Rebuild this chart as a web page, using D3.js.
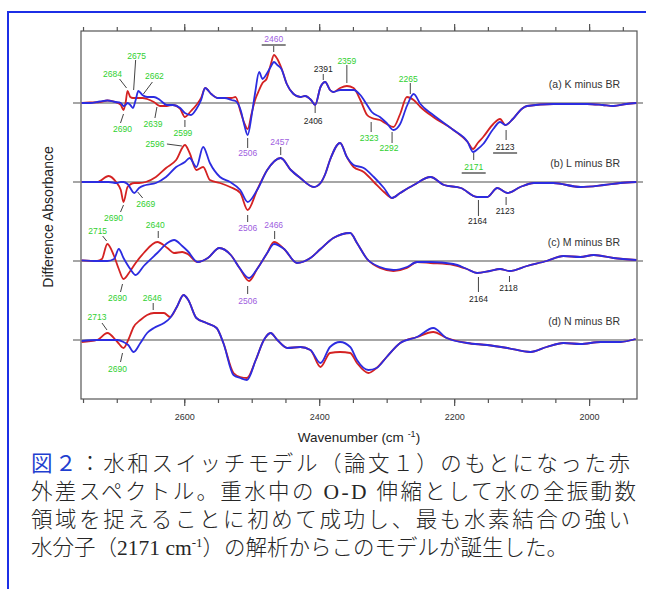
<!DOCTYPE html>
<html>
<head>
<meta charset="utf-8">
<script src="https://cdn.jsdelivr.net/npm/d3@7"></script>
<style>
  body { margin: 0; background: #fff; }
  svg { display: block; }
  .latin { font-family: "Times New Roman", "Liberation Serif", Times, serif; font-weight: 400; }
</style>
</head>
<body>
<div id="chart"></div>
<script>
// panels (top to bottom)
const panelNames = ["(a) K minus BR", "(b) L minus BR", "(c) M minus BR", "(d) N minus BR"];
const majorTicks = [2600, 2400, 2200, 2000];

// (a) K minus BR, wavenumber grid + red / blue difference spectra (arb. units)
const wnA = [2752, 2740, 2725, 2714, 2702, 2694, 2690, 2687, 2684, 2680, 2676, 2672, 2668, 2662, 2655, 2645, 2636, 2626, 2617, 2606, 2599, 2590, 2582, 2575, 2569, 2560, 2550, 2540, 2530, 2524, 2516, 2511, 2506, 2500, 2495, 2489, 2484, 2478, 2472, 2467, 2462, 2456, 2448, 2438, 2428, 2421, 2412, 2406, 2398, 2391, 2384, 2379, 2369, 2359, 2349, 2339, 2329, 2322, 2310, 2300, 2290, 2280, 2270, 2260, 2250, 2231, 2201, 2180, 2172, 2165, 2157, 2142, 2132, 2124, 2113, 2100, 2092, 2053, 2003, 1980, 1964, 1945, 1930];
const redA = [0, 0.5, 1, 2.5, 1, -2, -7, 0, 12, 6, 5, 5, 5, 5, 4, 1, -3, -3, -2, -6, -14, -8, -2, 5, 15, 9, 5, 5, 5, 6, -10, -20, -26, -10, 3, 13, 20, 24, 38, 48, 44, 35, 19, 9, 6, 7, 3, -2, 16, 21, 13, 11, 15, 17, 15, 3, -12, -15, -17, -21, -24, -11, 6, 3, -4, -14, -27, -39, -46, -40, -34, -21, -16, -22, -16, -6, -3, -1, -1, -2, -3, -1, 0];
const blueA = [0, 0, 1.5, 2.5, 1, 0, -3, -2, 0, -2, -5, 3, 12, 8, 6, 6, 3, -2, -2, -5, -10, -12, -6, 3, 15, 9, 5, 5, 3, 2, -8, -22, -32, -12, 10, 31, 24, 29, 36, 41, 38, 34, 19, 9, 6, 7, 3, -2, 16, 21, 13, 11, 13, 13, 13, 8, -2, -9, -14, -20, -27, -21, -3, 9, -1, -12, -27, -39, -49, -46, -41, -26, -19, -22, -16, -6, -3, -1, -1, -2, -3, -1, 0];

// (b) L minus BR
const wnB = [2752, 2729, 2712, 2700, 2694, 2690, 2684, 2674, 2667, 2657, 2642, 2627, 2612, 2599, 2592, 2582, 2572, 2562, 2547, 2532, 2517, 2506, 2492, 2477, 2457, 2442, 2428, 2408, 2398, 2391, 2384, 2369, 2359, 2349, 2334, 2319, 2304, 2292, 2280, 2260, 2235, 2215, 2190, 2166, 2151, 2136, 2121, 2102, 2082, 2053, 2013, 1978, 1954, 1930];
const redB = [0, 0, 6, -1, -8, -20, -5, -1, -1, 0, 5, 14, 22, 37, 29, 12, 15, 2, -1, -5, -11, -28, -8, 12, 24, 12, 4, -5, -1, 8, 22, 39, 25, 15, 10, 0, -10, -16, -11, -3, 5, -3, -6, -15, -15, -6, -11, -5, -1, -1, -5, -3, -1, 0];
const blueB = [0, 0, 0, -1, 0, 0, -2, -11, -6, -3, -1, 5, 15, 20, 24, 15, 35, 19, 5, 0, -8, -20, -8, 12, 24, 12, 4, -5, -1, 8, 22, 39, 25, 17, 14, 5, -6, -16, -11, -3, 5, -3, -6, -15, -15, -6, -11, -5, -1, -1, -5, -3, -1, 0];

// (c) M minus BR
const wnC = [2752, 2729, 2722, 2714, 2704, 2697, 2690, 2680, 2672, 2660, 2640, 2625, 2615, 2603, 2595, 2580, 2565, 2548, 2531, 2518, 2504, 2492, 2477, 2467, 2452, 2433, 2413, 2398, 2379, 2354, 2344, 2329, 2310, 2290, 2270, 2255, 2235, 2201, 2181, 2166, 2147, 2132, 2118, 2092, 2063, 2038, 2013, 1993, 1964, 1930];
const redC = [0.7, 0, 2, 17, 5, -8, -18, -10, -2, 8, 19, 13, 8, 9, 7, -1, 3, 13, 6, -7, -20, -8, 8, 19, 12, -2, 3, 12, 23, 28, 18, 2, -7, -10, -7, -1, -2, -4, -8, -12, -10, -8, -10, -5, 0, 5, 4, 6, 3, 1];
const blueC = [0.7, 0, 0, 0, 2, 12, 3, -8, -14, -5, 8, 18, 21, 15, 10, -1, 3, 13, 6, -7, -17, -8, 8, 17, 12, -2, 3, 12, 23, 28, 18, 2, -6, -9, -6, -1, -1, -3, -8, -12, -10, -8, -10, -5, 0, 5, 4, 6, 3, 1];

// (d) N minus BR
const wnD = [2752, 2729, 2714, 2699, 2690, 2683, 2675, 2665, 2655, 2645, 2630, 2621, 2611, 2601, 2594, 2582, 2567, 2552, 2542, 2527, 2517, 2507, 2494, 2482, 2472, 2462, 2447, 2428, 2413, 2398, 2384, 2369, 2354, 2344, 2327, 2315, 2300, 2280, 2255, 2231, 2211, 2181, 2151, 2121, 2087, 2063, 2038, 2013, 1983, 1954, 1931];
const redD = [-2, 0, 7, -2, -8, 0, 13, 20, 25, 27, 27, 23, 33, 45, 40, 22, 17, 12, -3, -33, -37, -38, -20, 0, 7, 0, -8, -7, -10, -27, -13, -12, -13, -23, -33, -28, -17, -3, 3, 8, 2, -3, -5, -8, -12, -7, -3, -4, -2, -2, 1];
const blueD = [-1, 0, 0, 0, -2, -5, -12, -3, 7, 12, 17, 22, 33, 45, 40, 22, 17, 12, -3, -35, -38, -40, -20, 0, 7, 0, -8, -7, -10, -23, -7, -2, -7, -20, -30, -28, -17, -3, 3, 12, 2, -3, -5, -8, -12, -7, -3, -4, -2, -2, 1];

const spectra = [
  { wn: wnA, red: redA, blue: blueA },
  { wn: wnB, red: redB, blue: blueB },
  { wn: wnC, red: redC, blue: blueC },
  { wn: wnD, red: redD, blue: blueD }
];

// peak labels: text = wavenumber, panel, colour; then label / leader offsets (px) from (x(wn), baseline)
const green = "#30d030", purple = "#a060e0", black = "#222";
const peaks = [
  ["2684", 0, green, -15, -29, -8, -24, -1, -15],
  ["2675", 0, green, 3, -47, 2, -43, 0, -13],
  ["2662", 0, green, 12, -27, 10, -21, 1, -9],
  ["2690", 0, green, -1, 26, 0, 11, -3, 20],
  ["2639", 0, green, -5, 21, -1, 4, -3, 15],
  ["2599", 0, green, -2, 30, 0, 17, 0, 24],
  ["2506", 0, purple, 0, 50, 0, 35, 0, 45],
  ["2460", 0, purple, -5, -64, -5, -57, -5, -51, "over"],
  ["2391", 0, black, -2, -34, -2, -29, -2, -23],
  ["2406", 0, black, -2, 18, 0, 3, 0, 10],
  ["2359", 0, green, 0, -42, 0, -38, 0, -20],
  ["2265", 0, green, -2, -24, 0, -20, 0, -9],
  ["2323", 0, green, -2, 35, 0, 19, 0, 29],
  ["2292", 0, green, -3, 45, 0, 29, 0, 40],
  ["2171", 0, green, 0, 64, 0, 50, 0, 57, "under"],
  ["2123", 0, black, -1, 44, 0, 27, 0, 37, "under"],
  ["2596", 1, green, -32, -38, -20, -38, -5, -36],
  ["2457", 1, purple, -1, -40, 0, -35, 0, -27],
  ["2690", 1, green, -10, 36, 0, 23, -3, 30],
  ["2669", 1, green, 8, 22, 0, 10, 5, 16],
  ["2506", 1, purple, 0, 46, 0, 33, 0, 40],
  ["2164", 1, black, -1, 39, 0, 18, 0, 34],
  ["2123", 1, black, -1, 29, 0, 15, 0, 23],
  ["2715", 2, green, -9, -30, -4, -25, 0, -20],
  ["2640", 2, green, -2, -36, 1, -30, 1, -23],
  ["2690", 2, green, -6, 37, -1, 23, -3, 31],
  ["2506", 2, purple, 0, 40, 0, 25, 0, 33],
  ["2466", 2, purple, -1, -36, 0, -30, 0, -22],
  ["2164", 2, black, 0, 38, 0, 16, 0, 31],
  ["2118", 2, black, -1, 27, 0, 15, 0, 21],
  ["2713", 3, green, -11, -23, -6, -17, -1, -10],
  ["2646", 3, green, -1, -42, 0, -37, 0, -30],
  ["2690", 3, green, -6, 29, -1, 13, -3, 22]
];

const W = 646, H = 589;
const svg = d3.select("#chart").append("svg")
  .attr("width", W)
  .attr("height", H)
  .style("font-family", "'Liberation Sans', Arial, sans-serif");

// blue frame of the figure
svg.append("path")
  .attr("d", "M8," + H + " V12 H" + W)
  .attr("fill", "none")
  .attr("stroke", "#1c2fe6")
  .attr("stroke-width", 2);

const plot = { left: 81, right: 637, top: 31, bottom: 399 };

const x = d3.scaleLinear()
  .domain([2753, 1929])
  .range([plot.left, plot.right]);

// baseline of every panel
const base = d3.scalePoint()
  .domain(panelNames)
  .range([103, 340]);

// amplitude: 1 unit = 1 px
const amp = d3.scaleLinear().domain([-50, 50]).range([50, -50]);

// frame
svg.append("rect")
  .attr("x", plot.left).attr("y", plot.top)
  .attr("width", plot.right - plot.left)
  .attr("height", plot.bottom - plot.top)
  .attr("fill", "none")
  .attr("stroke", "#555")
  .attr("stroke-width", 1.2);

const minorTicks = d3.range(1950, 2751, 50);

function addAxis(axisFn, y, values, size, labels) {
  let g = svg.append("g")
    .attr("transform", "translate(0," + y + ")")
    .call(axisFn(x).tickValues(values).tickSize(size).tickPadding(8)
      .tickFormat(labels ? d3.format("d") : ""));
  g.select(".domain").remove();
  g.selectAll("line").attr("stroke", "#555").attr("stroke-width", 1.2);
  g.selectAll("text").attr("font-size", 9).attr("fill", "#333");
}
addAxis(d3.axisBottom, plot.bottom, minorTicks, 4, false);
addAxis(d3.axisBottom, plot.bottom, majorTicks, 7, true);
addAxis(d3.axisTop, plot.top, minorTicks, 4, false);
addAxis(d3.axisTop, plot.top, majorTicks, 7, false);

// axis titles
const xt = svg.append("text")
  .attr("x", 359).attr("y", 442)
  .attr("text-anchor", "middle")
  .attr("font-size", 13.5)
  .attr("fill", "#222")
  .text("Wavenumber (cm ");
xt.append("tspan").attr("dy", -5).attr("font-size", 9).text("-1");
xt.append("tspan").attr("dy", 5).text(")");

svg.append("text")
  .attr("transform", "translate(53,217) rotate(-90)")
  .attr("text-anchor", "middle")
  .attr("font-size", 14)
  .attr("fill", "#222")
  .text("Difference Absorbance");

// panels
const line = d3.line()
  .x(d => x(d[0]))
  .y(d => d[1])
  .curve(d3.curveMonotoneX);

panelNames.forEach(function(name, i) {
  let b = base(name);
  let s = spectra[i];

  svg.append("line")
    .attr("x1", 73).attr("x2", 643)
    .attr("y1", b).attr("y2", b)
    .attr("stroke", "#888")
    .attr("stroke-width", 1.3);

  [["red", "#d42222"], ["blue", "#2c2ce0"]].forEach(function(c) {
    svg.append("path")
      .datum(s.wn.map((w, k) => [w, b + amp(s[c[0]][k])]))
      .attr("d", line)
      .attr("fill", "none")
      .attr("stroke", c[1])
      .attr("stroke-width", 1.8)
      .attr("stroke-linejoin", "round");
  });

  svg.append("text")
    .attr("x", 620).attr("y", b - 15)
    .attr("text-anchor", "end")
    .attr("font-size", 10.5)
    .attr("fill", "#333")
    .text(name);
});

// peak annotations
const ann = svg.append("g");
peaks.forEach(function(p) {
  let px = x(+p[0]);
  let b = base(panelNames[p[1]]);
  ann.append("line")
    .attr("x1", px + p[5]).attr("y1", b + p[6])
    .attr("x2", px + p[7]).attr("y2", b + p[8])
    .attr("stroke", "#444")
    .attr("stroke-width", 1);
  ann.append("text")
    .attr("x", px + p[3]).attr("y", b + p[4])
    .attr("text-anchor", "middle")
    .attr("dominant-baseline", "central")
    .attr("font-size", 8.5)
    .attr("fill", p[2])
    .text(p[0]);
  if (p[9]) {
    ann.append("line")
      .attr("x1", px + p[3] - 12).attr("x2", px + p[3] + 12)
      .attr("y1", b + p[4] + 6).attr("y2", b + p[4] + 6)
      .attr("stroke", "#333")
      .attr("stroke-width", 1.2);
  }
});

// caption (CJK light, latin in a regular serif)
const cap = svg.append("g")
  .attr("font-family", "'Noto Sans CJK JP', sans-serif")
  .attr("font-size", 21.5)
  .attr("font-weight", 300)
  .attr("fill", "#262626");

function latin(sel, txt) {
  return sel.append("tspan")
    .attr("class", "latin")
    .style("font-family", "'Times New Roman', 'Liberation Serif', serif")
    .style("font-weight", "400")
    .text(txt);
}

const l1 = cap.append("text").attr("x", 31).attr("y", 471)
  .attr("textLength", 599).attr("lengthAdjust", "spacing");
l1.append("tspan").attr("fill", "#1f3fd0").attr("font-weight", 400).text("図２");
l1.append("tspan").text("：水和スイッチモデル（論文１）のもとになった赤");

const l2 = cap.append("text").attr("x", 31).attr("y", 499)
  .attr("textLength", 605).attr("lengthAdjust", "spacing");
l2.append("tspan").text("外差スペクトル。重水中の");
latin(l2, " O-D ");
l2.append("tspan").text("伸縮として水の全振動数");

cap.append("text").attr("x", 31).attr("y", 527)
  .attr("textLength", 599).attr("lengthAdjust", "spacing")
  .text("領域を捉えることに初めて成功し、最も水素結合の強い");

const l4 = cap.append("text").attr("x", 31).attr("y", 555);
l4.append("tspan").text("水分子（");
latin(l4, "2171 cm");
latin(l4, "-1").attr("dy", -8).attr("font-size", 13);
l4.append("tspan").attr("dy", 8).text("）の解析からこのモデルが誕生した。");
</script>
</body>
</html>
